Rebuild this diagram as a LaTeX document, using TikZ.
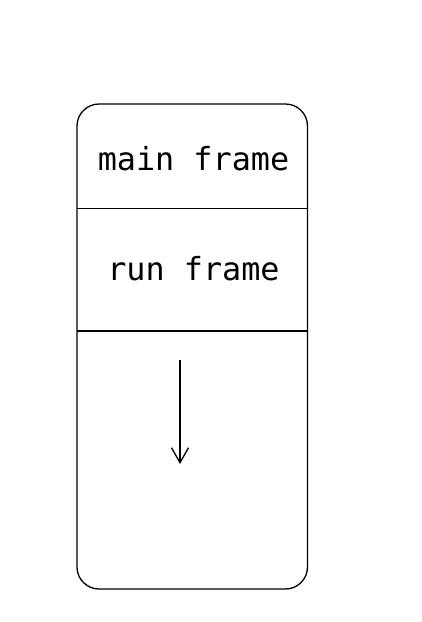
\documentclass[tikz,border=0pt]{standalone}
\usepackage{fontspec}
\setmonofont{DejaVu Sans Mono}
\usetikzlibrary{arrows.meta}
\begin{document}
\begin{tikzpicture}[x=1pt,y=-1pt,line width=1.3pt,
	label/.style={anchor=base,font=\ttfamily\fontsize{31.8}{38}\selectfont,inner sep=0pt}]
	\useasboundingbox (0,0) rectangle (421,622);
	%stack box
	\draw[rounded corners=22pt] (77,104) rectangle (307.5,589);
	\coordinate (sep1l) at (77,208.5);
	\coordinate (sep1r) at (307.5,208.5);
	\coordinate (sep2l) at (77,331);
	\coordinate (sep2r) at (307.5,331);
	\draw[line width=1.1pt] (sep1l) -- (sep1r); %first split
	\draw[line width=1.1pt] (sep2l) -- (sep2r); %second split

	%labels
	\node[label] (main) at (193.5,170) {main frame}; %main label
	\node[label] (run) at (193.5,280) {run frame}; %run label

	%growth arrow
	\coordinate (top) at (180,360);
	\coordinate (tip) at (180,464);
	\draw[-{Straight Barb[length=15pt,width=17pt]}] (top) -- (tip);
\end{tikzpicture}
\end{document}
